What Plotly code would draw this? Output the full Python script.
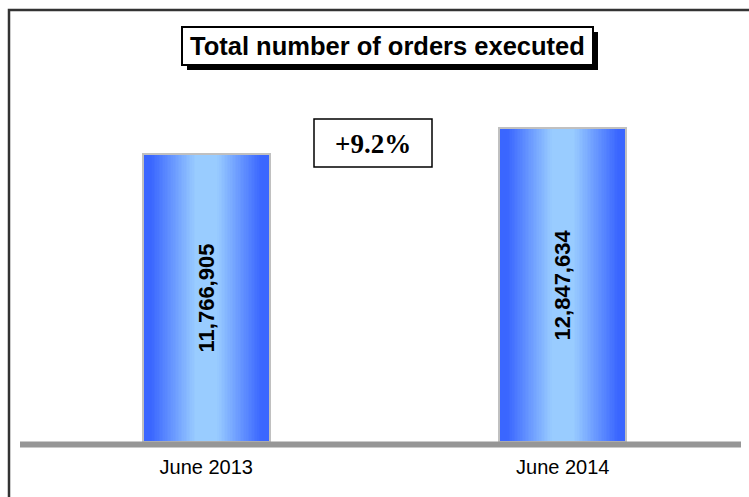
import numpy as np
import plotly.graph_objects as go

# data
periods = ["June 2013", "June 2014"]
orders = [11766905, 12847634]
growth_label = "+9.2%"
title_text = "Total number of orders executed"

W, H = 749, 497


def px(x):
    return x / W


def py(y):
    return 1 - y / H


def mix(c1, c2, t):
    return "rgb(%d,%d,%d)" % tuple(round(a + (b - a) * t) for a, b in zip(c1, c2))


edge_rgb = (58, 102, 255)
center_rgb = (153, 204, 255)
bar_w = 0.356

fig = go.Figure()

# fake horizontal gradient: stacked bars, narrower and lighter towards the middle
n_steps = 40
for k in range(n_steps):
    d = 1 - k / n_steps  # 1 = edge, ->0 centre
    t = float(np.clip((0.88 - d) / 0.7, 0, 1))
    fig.add_trace(go.Bar(
        x=periods, y=orders, width=bar_w * d,
        marker=dict(color=mix(edge_rgb, center_rgb, t), line=dict(width=0)),
        hoverinfo="skip", showlegend=False,
    ))

# outline + value labels
fig.add_trace(go.Bar(
    x=periods, y=orders, width=bar_w,
    marker=dict(color="rgba(0,0,0,0)", line=dict(color="#c0c0c0", width=2)),
    text=[f"{v:,}" for v in orders],
    textposition="inside", insidetextanchor="middle", textangle=-90,
    textfont=dict(family="Liberation Sans, Arial", size=22, color="black", weight="bold"),
    showlegend=False, hoverinfo="skip",
))

shapes = [
    # outer frame (cut at right and bottom like the source)
    dict(type="rect", xref="paper", yref="paper", x0=px(9), x1=px(800), y0=py(560), y1=py(10),
         line=dict(color="#333333", width=2.5)),
    # baseline
    dict(type="line", xref="paper", yref="paper", x0=px(20), x1=px(741), y0=py(444.5), y1=py(444.5),
         line=dict(color="#969696", width=6)),
    # title shadow + box
    dict(type="rect", xref="paper", yref="paper", x0=px(187), x1=px(598), y0=py(70), y1=py(32),
         fillcolor="black", line=dict(width=0)),
    dict(type="rect", xref="paper", yref="paper", x0=px(182), x1=px(593), y0=py(65), y1=py(27),
         fillcolor="white", line=dict(color="black", width=2)),
    # growth box
    dict(type="rect", xref="paper", yref="paper", x0=px(314), x1=px(432), y0=py(167), y1=py(119),
         fillcolor="white", line=dict(color="black", width=1.5)),
]

annotations = [
    dict(text=title_text, xref="paper", yref="paper", x=px(387.5), y=py(46),
         xanchor="center", yanchor="middle", showarrow=False,
         font=dict(family="Liberation Sans, Arial", size=25.5, color="black", weight="bold")),
    dict(text=growth_label, xref="paper", yref="paper", x=px(373), y=py(144),
         xanchor="center", yanchor="middle", showarrow=False,
         font=dict(family="Liberation Serif, Times New Roman", size=27, color="black", weight="bold")),
]

fig.update_layout(
    width=W, height=H,
    margin=dict(l=0, r=0, t=0, b=0),
    paper_bgcolor="white", plot_bgcolor="white",
    barmode="overlay", bargap=0,
    shapes=shapes, annotations=annotations,
    xaxis=dict(domain=[px(28), px(741)], type="category", range=[-0.5, 1.5],
               showgrid=False, zeroline=False, showline=False,
               ticks="outside", ticklen=7, tickcolor="rgba(0,0,0,0)",
               tickfont=dict(family="Liberation Sans, Arial", size=20, color="black")),
    yaxis=dict(domain=[py(442), py(10)], range=[0, 17650000],
               showgrid=False, zeroline=False, showline=False, showticklabels=False),
)

# page body has a default 8px margin; drop it so the figure sits at (0, 0)
fig.write_html("out.html", config={"displayModeBar": False},
               post_script="document.body.style.margin='0';")
